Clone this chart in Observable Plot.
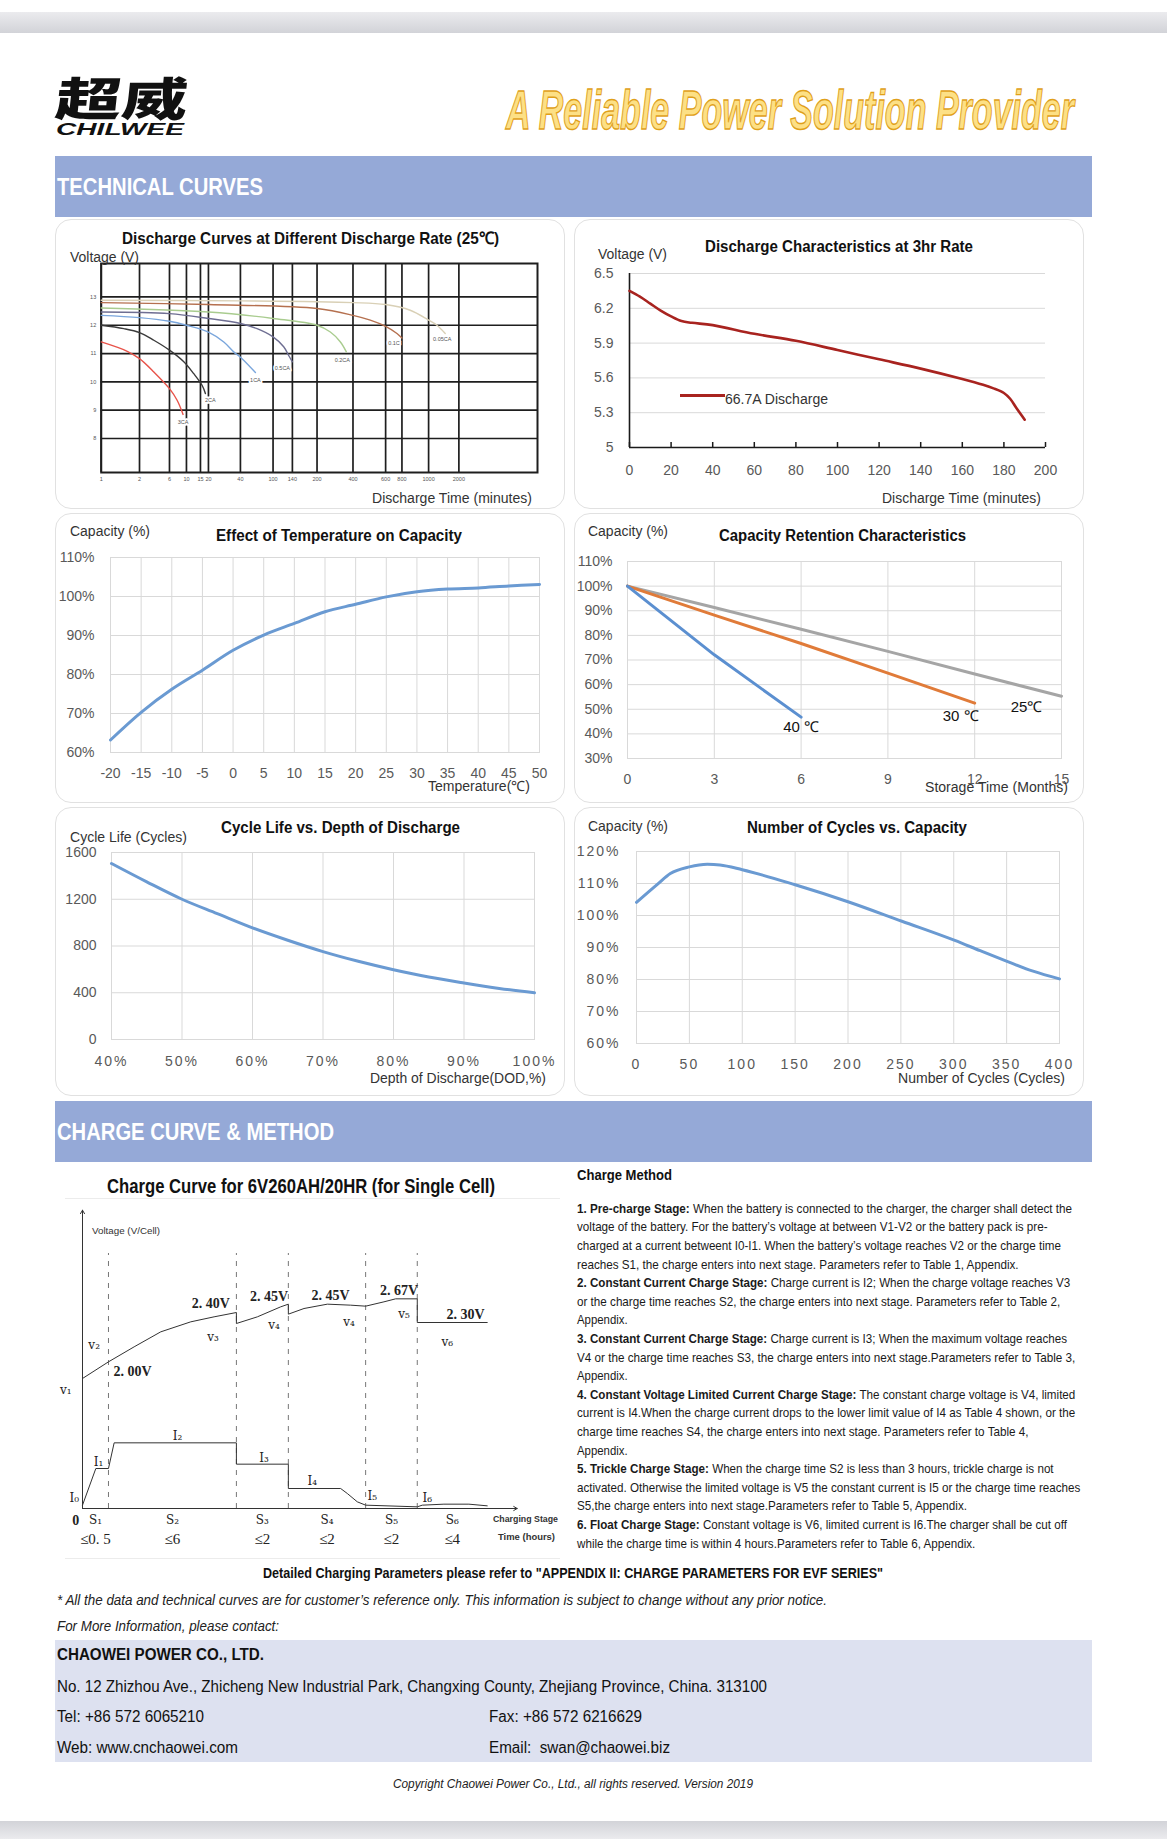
<!DOCTYPE html>
<html><head><meta charset="utf-8">
<script src="https://cdn.jsdelivr.net/npm/d3@7"></script>
<script src="https://cdn.jsdelivr.net/npm/@observablehq/plot@0.6"></script>
<style>
html,body{margin:0;padding:0;background:#fff;}
#page{position:relative;width:1167px;height:1839px;overflow:hidden;background:#fff;}
.abs{position:absolute;}
.t{position:absolute;white-space:nowrap;line-height:1;transform-origin:0 50%;}
.panel{position:absolute;border:1px solid #e1e1e1;border-radius:16px;background:#fff;box-sizing:border-box;}
</style></head><body><div id="page"></div>
<script>
// ---------------- DATA ----------------
// Chart 1: discharge curves at different rates (time in minutes, voltage V)
const dcTicksX = [1, 2, 6, 10, 15, 20, 40, 100, 140, 200, 400, 600, 800, 1000, 2000];
const dcTicksY = [8, 9, 10, 11, 12, 13];
const rate3CA = [[1,11.41],[1.68,11.08],[2,10.82],[3.91,10.35],[6,9.76],[7.8,9.35],[9.2,8.85]];
const rate2CA = [[1,12.0],[1.59,11.88],[2,11.74],[3.91,11.47],[6,11.12],[9.37,10.71],[12.6,10.29],[16,9.88],[18.1,9.59]];
const rate1CA = [[1,12.35],[2,12.27],[6,12.14],[10,12.0],[20,11.76],[29.6,11.41],[35.8,11.06],[43,10.82],[67.6,10.33]];
const rate05CA = [[1,12.47],[6,12.41],[20,12.24],[40,12.06],[70.6,11.88],[100,11.59],[122,11.24],[132,10.94],[140,10.71]];
const rate02CA = [[1,12.61],[20,12.47],[100,12.24],[200,12.0],[274,11.76],[330,11.41],[363,11.06]];
const rate01C = [[1,12.8],[20,12.73],[200,12.59],[400,12.35],[506,12.18],[600,11.96],[739,11.71],[800,11.55]];
const rate005CA = [[1,12.88],[40,12.86],[400,12.8],[600,12.73],[862,12.53],[1000,12.18],[1275,12.0],[1549,11.71]];
const rateNames = ["3CA", "2CA", "1CA", "0.5CA", "0.2CA", "0.1C", "0.05CA"];

// Chart 2: discharge at 3hr rate
const dis3hrTicksX = [0, 20, 40, 60, 80, 100, 120, 140, 160, 180, 200];
const dis3hrTicksY = [5, 5.3, 5.6, 5.9, 6.2, 6.5];
const dis3hrTime = [0, 5, 10, 15, 20, 25, 30, 40, 60, 80, 100, 120, 140, 160, 170, 175, 180, 183, 186, 190];
const dis3hrVolt = [6.35, 6.3, 6.24, 6.18, 6.13, 6.09, 6.075, 6.055, 5.98, 5.92, 5.84, 5.76, 5.68, 5.59, 5.54, 5.51, 5.47, 5.42, 5.34, 5.24];

// Chart 3: temperature vs capacity
const tempC = [-20, -15, -10, -5, 0, 5, 10, 15, 20, 25, 30, 35, 40, 45, 50];
const tempCap = [63.2, 70.3, 76.2, 81.1, 86.2, 90.1, 93.1, 96.1, 98, 99.9, 101.2, 101.9, 102.2, 102.7, 103.1];
const capTicks60 = [60, 70, 80, 90, 100, 110];

// Chart 4: capacity retention
const retMonths = [0, 3, 6, 9, 12, 15];
const ret25 = [100, 91.3, 82.5, 73.5, 64.3, 55.3];
const ret30 = [100, 88.2, 76.7, 64.7, 52.5];
const ret40 = [100, 72.1, 46.8];
const retTicksY = [30, 40, 50, 60, 70, 80, 90, 100, 110];
const retNames = ["25℃", "30 ℃", "40 ℃"];

// Chart 5: cycle life vs DOD
const dod = [40, 45, 50, 55, 60, 65, 70, 75, 80, 85, 90, 95, 100];
const cycleLife = [1506, 1349, 1200, 1077, 955, 849, 752, 669, 597, 534, 483, 437, 400];
const dodTicks = [40, 50, 60, 70, 80, 90, 100];
const lifeTicks = [0, 400, 800, 1200, 1600];

// Chart 6: number of cycles vs capacity
const cycN = [0, 20, 32, 50, 67, 79, 100, 150, 200, 251, 301, 325, 351, 375, 400];
const cycCap = [104.1, 109.8, 113.1, 115.2, 116, 115.8, 114.3, 109.6, 104.3, 98.2, 92.2, 89.0, 85.6, 82.6, 80.2];
const cycTicks = [0, 50, 100, 150, 200, 250, 300, 350, 400];
const cycCapTicks = [60, 70, 80, 90, 100, 110, 120];

// Charge curve (schematic units)
const stageEdges = [0, 7.8, 46.2, 61.8, 85, 100.5, 121.5];
const stageNames = ["S₁", "S₂", "S₃", "S₄", "S₅", "S₆"];
const stageHours = ["≤0. 5", "≤6", "≤2", "≤2", "≤2", "≤4"];
const chargeVolt = [[0,39],[7.8,44],[15.5,48.5],[23.5,53],[32.5,56],[39.5,57.5],[46.2,58.8],[46.2,55.5],[52.5,57.5],[59.5,60.5],[61.8,61.3],[61.8,58.3],[66.5,60],[73.5,61.3],[80.5,61],[85,60.7],[90.5,62],[94,62.9],[100.5,62.9],[100.5,55.8],[121.5,55.8]];
const chargeCurr = [[0,1],[4,12],[7.8,12],[9.5,19.7],[46.2,19.7],[46.2,13.3],[61.8,13.3],[61.8,6],[77.5,6],[79.5,4.5],[82.5,2],[85,1],[100.5,0.5],[102,1],[108.5,1.3],[116,1.3],[121.5,0.8]];
const voltNotes = [["2. 00V",15,41],["2. 40V",38.5,61.5],["2. 45V",56,63.7],["2. 45V",74.5,64],["2. 67V",95,65.5],["2. 30V",115,58.3]];
const symNotes = [["v₁",-5,35.5],["v₂",3.5,49],["v₃",39.2,51.5],["v₄",57.5,55],["v₄",80,56],["v₅",96.5,58.3],["v₆",109.5,50],
  ["I₀",-2.5,3],["I₁",4.8,14],["I₂",28.5,21.7],["I₃",54.5,15],["I₄",69,8.3],["I₅",87,3.7],["I₆",103.5,3]];

// ---------------- STYLE / LAYOUT ----------------
const SANS = '"Liberation Sans", Arial, Helvetica, sans-serif';
const NARROW = '"Liberation Sans Narrow", "Arial Narrow", "Liberation Sans", Arial, sans-serif';
const SERIF = '"Liberation Serif", "DejaVu Serif", "Times New Roman", serif';
const rateColors = ["#e8534a", "#3a3a3a", "#7aa6dc", "#6e6e92", "#a9cc8f", "#b5704f", "#d9d0b6"];
const rateLabelOffsets = [[0,8],[5,7],[0,8],[-10,6],[-4,8],[-8,5],[-3,6]];
const dcStopFrac = [0,.0878,.1565,.1954,.2275,.2458,.3191,.3939,.4382,.4947,.5771,.6519,.6893,.7504,.8198,1];
const dcStopVals = [...dcTicksX, 4000];
const GRID = "#d9d9d9";

const page = document.getElementById("page");
function el(tag, cls, st) { const e = document.createElement(tag); if (cls) e.className = cls; Object.assign(e.style, st || {}); page.appendChild(e); return e; }
function box(x, y, w, h, bg) { return el("div", "abs", {left: x+"px", top: y+"px", width: w+"px", height: h+"px", background: bg}); }
function panel(x, y, w, h) { return el("div", "panel", {left: x+"px", top: y+"px", width: w+"px", height: h+"px"}); }
function txt(str, x, y, o = {}) {
  const e = el("div", "t");
  e.innerHTML = str;
  const s = e.style;
  s.fontFamily = o.family || SANS;
  s.fontSize = (o.size || 14) + "px";
  s.fontWeight = o.weight || "normal";
  s.fontStyle = o.italic ? "italic" : "normal";
  s.color = o.color || "#222";
  if (o.ls) s.letterSpacing = o.ls + "px";
  if (o.outline) s.webkitTextStroke = o.outline;
  const w = e.getBoundingClientRect().width;
  const k = o.fit ? o.fit / w : 1;
  const a = o.anchor === "middle" ? 0.5 : o.anchor === "end" ? 1 : 0;
  s.left = (x - a * w * k) + "px";
  s.top = y + "px";
  s.transform = `translateY(-50%) ${o.skew ? `skewX(${o.skew}deg) ` : ""}scaleX(${k})`;
  return e;
}
function place(svg, x, y, w, h) {
  const d = el("div", "abs", {left: x+"px", top: y+"px", width: w+"px", height: h+"px"});
  d.appendChild(svg);
  return svg;
}
function spaceLabels(svg, which, ls) {
  svg.querySelectorAll(`g[aria-label="${which}-axis tick label"]`).forEach(g => g.style.letterSpacing = ls + "px");
}
const pct = d => d + "%";

// ---------------- PAGE FRAME ----------------
box(0, 12, 1167, 21, "linear-gradient(#ebebee, #d2d3d8)");
box(0, 1821, 1167, 18, "linear-gradient(#d2d3d8, #ebebee)");

// header
txt("超威", 56, 96, {family: '"Noto Sans CJK SC", sans-serif', weight: 900, size: 46, fit: 132, color: "#111", skew: -6});
txt("CHILWEE", 56, 130, {family: SANS, weight: "bold", italic: true, size: 16, fit: 128, color: "#111"});
txt("A Reliable Power Solution Provider", 506, 110, {family: NARROW, weight: "bold", italic: true, size: 56, fit: 568, color: "#fde085", outline: "1.4px #e0a01a"});

// banners
box(55, 156, 1037, 61, "#95a9d7");
txt("TECHNICAL CURVES", 57, 187, {family: NARROW, weight: "bold", size: 23, fit: 206, color: "#fff"});
box(55, 1101, 1037, 61, "#95a9d7");
txt("CHARGE CURVE &amp; METHOD", 57, 1132, {family: NARROW, weight: "bold", size: 23, fit: 277, color: "#fff"});

// panels
panel(55, 219, 510, 290); panel(574, 219, 510, 290);
panel(55, 513, 510, 290); panel(574, 513, 510, 290);
panel(55, 807, 510, 289); panel(574, 807, 510, 289);

// ---------------- CHART 1 ----------------
{
  const W = 510, H = 290, ml = 45.7, mr = 28, mt = 44, mb = 37;
  const series = [rate3CA, rate2CA, rate1CA, rate05CA, rate02CA, rate01C, rate005CA];
  const marks = [
    Plot.gridX(dcTicksX, {stroke: "#1e1e1e", strokeOpacity: 1, strokeWidth: 1.7}),
    Plot.gridY(dcTicksY, {stroke: "#1e1e1e", strokeOpacity: 1, strokeWidth: 1.7}),
    Plot.frame({stroke: "#1e1e1e", strokeWidth: 2}),
    Plot.axisX(dcTicksX, {tickSize: 0, tickPadding: 5, label: null, tickFormat: String, fontSize: 5.5}),
    Plot.axisY(dcTicksY, {tickSize: 0, tickPadding: 5, label: null, tickFormat: String, fontSize: 5.5})
  ];
  series.forEach((s, i) => {
    marks.push(Plot.line(s, {x: d => d[0], y: d => d[1], stroke: rateColors[i], strokeWidth: 1.4, curve: "catmull-rom"}));
  });
  series.forEach((s, i) => {
    marks.push(Plot.text([s[s.length - 1]], {x: d => d[0], y: d => d[1], text: () => rateNames[i], dx: rateLabelOffsets[i][0], dy: rateLabelOffsets[i][1],
      fill: "#555", stroke: "white", strokeWidth: 3.5, fontSize: 5.5, fontFamily: SANS}));
  });
  const svg = Plot.plot({
    width: W, height: H, marginLeft: ml, marginRight: mr, marginTop: mt, marginBottom: mb,
    style: {background: "transparent", fontFamily: SANS, fontSize: "5.5px", color: "#555", overflow: "visible"},
    x: {type: "linear", domain: dcStopVals, range: dcStopFrac.map(f => ml + f * (W - ml - mr))},
    y: {domain: [6.8, 14.18]},
    marks
  });
  place(svg, 55, 219, W, H);
}
txt("Discharge Curves at Different Discharge Rate (25℃)", 310, 238, {weight: "bold", size: 17, fit: 377, anchor: "middle", color: "#111"});
txt("Voltage (V)", 70, 257, {size: 14, fit: 69, color: "#333"});
txt("Discharge Time (minutes)", 532, 498, {size: 14, fit: 160, anchor: "end", color: "#333"});

// ---------------- CHART 2 ----------------
{
  const W = 510, H = 290;
  const svg = Plot.plot({
    width: W, height: H, marginLeft: 55, marginRight: 39, marginTop: 54, marginBottom: 62,
    style: {background: "transparent", fontFamily: SANS, fontSize: "14px", color: "#595959", overflow: "visible"},
    x: {domain: [0, 200]}, y: {domain: [5, 6.5]},
    marks: [
      Plot.gridY(dis3hrTicksY.slice(1), {stroke: GRID, strokeOpacity: 1}),
      Plot.ruleX([0], {stroke: "#1a1a1a", strokeWidth: 1.6}),
      Plot.ruleY([5], {stroke: "#1a1a1a", strokeWidth: 1.6}),
      Plot.axisX(dis3hrTicksX, {tickSize: 5, dy: -5, tickFormat: () => "", stroke: "#1a1a1a", strokeWidth: 1.5, label: null}),
      Plot.axisX(dis3hrTicksX, {tickSize: 0, tickPadding: 18, label: null, tickFormat: String}),
      Plot.axisY(dis3hrTicksY, {tickSize: 0, tickPadding: 16, label: null, tickFormat: String}),
      Plot.line(dis3hrTime.map((t, i) => [t, dis3hrVolt[i]]), {x: d => d[0], y: d => d[1], stroke: "#a8231f", strokeWidth: 2.6, curve: "catmull-rom"})
    ]
  });
  place(svg, 574, 219, W, H);
}
txt("Discharge Characteristics at 3hr Rate", 839, 247, {weight: "bold", size: 16, fit: 268, anchor: "middle", color: "#111"});
txt("Voltage (V)", 598, 254, {size: 14, fit: 69, color: "#333"});
txt("Discharge Time (minutes)", 1041, 498, {size: 14, fit: 159, anchor: "end", color: "#333"});
box(680, 394, 45, 3, "#a8231f");
txt("66.7A Discharge", 725, 399, {size: 14, fit: 103, color: "#333"});

// ---------------- CHART 3 ----------------
{
  const W = 510, H = 290;
  const svg = Plot.plot({
    width: W, height: H, marginLeft: 55, marginRight: 26, marginTop: 44, marginBottom: 51,
    style: {background: "transparent", fontFamily: SANS, fontSize: "14px", color: "#595959", overflow: "visible"},
    x: {domain: [-20, 50]}, y: {domain: [60, 110]},
    marks: [
      Plot.gridX(tempC, {stroke: GRID, strokeOpacity: 1}),
      Plot.gridY(capTicks60, {stroke: GRID, strokeOpacity: 1}),
      Plot.frame({stroke: GRID}),
      Plot.axisX(tempC, {tickSize: 0, tickPadding: 16, label: null, tickFormat: String}),
      Plot.axisY(capTicks60, {tickSize: 0, tickPadding: 16, label: null, tickFormat: pct}),
      Plot.line(tempC.map((t, i) => [t, tempCap[i]]), {x: d => d[0], y: d => d[1], stroke: "#6a9ad2", strokeWidth: 3, curve: "catmull-rom"})
    ]
  });
  place(svg, 55, 513, W, H);
}
txt("Effect of Temperature on Capacity", 339, 536, {weight: "bold", size: 16, fit: 246, anchor: "middle", color: "#111"});
txt("Capacity (%)", 70, 531, {size: 14, fit: 80, color: "#333"});
txt("Temperature(℃)", 479, 786, {size: 14, fit: 102, anchor: "middle", color: "#333"});

// ---------------- CHART 4 ----------------
{
  const W = 510, H = 290;
  const rows = [ret25, ret30, ret40];
  const colors = ["#a5a5a5", "#e07b39", "#5b8fd0"];
  const offs = [[-35, 11], [-14, 13], [0, 10]];
  const marks = [
    Plot.gridX(retMonths, {stroke: GRID, strokeOpacity: 1}),
    Plot.gridY(retTicksY, {stroke: GRID, strokeOpacity: 1}),
    Plot.frame({stroke: GRID}),
    Plot.axisX(retMonths, {tickSize: 0, tickPadding: 16, label: null, tickFormat: String}),
    Plot.axisY(retTicksY, {tickSize: 0, tickPadding: 15, label: null, tickFormat: pct})
  ];
  rows.forEach((r, i) => {
    marks.push(Plot.line(r.map((v, j) => [retMonths[j], v]), {x: d => d[0], y: d => d[1], stroke: colors[i], strokeWidth: 3}));
  });
  rows.forEach((r, i) => {
    marks.push(Plot.text([[retMonths[r.length - 1], r[r.length - 1]]], {x: d => d[0], y: d => d[1], text: () => retNames[i],
      dx: offs[i][0], dy: offs[i][1], fill: "#111", fontSize: 15, fontFamily: SANS}));
  });
  const svg = Plot.plot({
    width: W, height: H, marginLeft: 53, marginRight: 23, marginTop: 48, marginBottom: 45,
    style: {background: "transparent", fontFamily: SANS, fontSize: "14px", color: "#595959", overflow: "visible"},
    x: {domain: [0, 15]}, y: {domain: [30, 110]},
    marks
  });
  place(svg, 574, 513, W, H);
}
txt("Capacity Retention Characteristics", 842, 536, {weight: "bold", size: 16, fit: 247, anchor: "middle", color: "#111"});
txt("Capacity (%)", 588, 531, {size: 14, fit: 80, color: "#333"});
txt("Storage Time (Months)", 1068, 787, {size: 14, fit: 143, anchor: "end", color: "#333"});

// ---------------- CHART 5 ----------------
{
  const W = 510, H = 289;
  const svg = Plot.plot({
    width: W, height: H, marginLeft: 56, marginRight: 31, marginTop: 45, marginBottom: 57,
    style: {background: "transparent", fontFamily: SANS, fontSize: "14px", color: "#595959", overflow: "visible"},
    x: {domain: [40, 100]}, y: {domain: [0, 1600]},
    marks: [
      Plot.gridX(dodTicks, {stroke: GRID, strokeOpacity: 1}),
      Plot.gridY(lifeTicks, {stroke: GRID, strokeOpacity: 1}),
      Plot.frame({stroke: GRID}),
      Plot.axisX(dodTicks, {tickSize: 0, tickPadding: 17, label: null, tickFormat: pct}),
      Plot.axisY(lifeTicks, {tickSize: 0, tickPadding: 15, label: null, tickFormat: String}),
      Plot.line(dod.map((t, i) => [t, cycleLife[i]]), {x: d => d[0], y: d => d[1], stroke: "#6a9ad2", strokeWidth: 3, curve: "monotone-x"})
    ]
  });
  spaceLabels(svg, "x", 2);
  place(svg, 55, 807, W, H);
}
txt("Cycle Life vs. Depth of Discharge", 340, 828, {weight: "bold", size: 16, fit: 239, anchor: "middle", color: "#111"});
txt("Cycle Life (Cycles)", 70, 837, {size: 14, fit: 117, color: "#333"});
txt("Depth of Discharge(DOD,%)", 546, 1078, {size: 14, fit: 176, anchor: "end", color: "#333"});

// ---------------- CHART 6 ----------------
{
  const W = 510, H = 289;
  const svg = Plot.plot({
    width: W, height: H, marginLeft: 62, marginRight: 25, marginTop: 44, marginBottom: 53,
    style: {background: "transparent", fontFamily: SANS, fontSize: "14px", color: "#595959", overflow: "visible"},
    x: {domain: [0, 400]}, y: {domain: [60, 120]},
    marks: [
      Plot.gridX(cycTicks, {stroke: GRID, strokeOpacity: 1}),
      Plot.gridY(cycCapTicks, {stroke: GRID, strokeOpacity: 1}),
      Plot.frame({stroke: GRID}),
      Plot.axisX(cycTicks, {tickSize: 0, tickPadding: 16, label: null, tickFormat: String}),
      Plot.axisY(cycCapTicks, {tickSize: 0, tickPadding: 16, label: null, tickFormat: pct}),
      Plot.line(cycN.map((t, i) => [t, cycCap[i]]), {x: d => d[0], y: d => d[1], stroke: "#6a9ad2", strokeWidth: 3, curve: "monotone-x"})
    ]
  });
  spaceLabels(svg, "x", 2);
  spaceLabels(svg, "y", 2);
  place(svg, 574, 807, W, H);
}
txt("Number of Cycles vs. Capacity", 857, 828, {weight: "bold", size: 16, fit: 220, anchor: "middle", color: "#111"});
txt("Capacity (%)", 588, 826, {size: 14, fit: 80, color: "#333"});
txt("Number of Cycles (Cycles)", 1065, 1078, {size: 14, fit: 167, anchor: "end", color: "#333"});

// ---------------- CHARGE CURVE ----------------
box(65, 1198, 495, 1, "#ececec");
box(65, 1558, 495, 1, "#ececec");
{
  const W = 510, H = 390;
  const axisEnds = [{x1: 0, y1: 0, x2: 0, y2: 89.5}, {x1: 0, y1: 0, x2: 130.5, y2: 0}];
  const mids = stageEdges.slice(0, -1).map((e, i) => (e + stageEdges[i + 1]) / 2);
  const svg = Plot.plot({
    width: W, height: H, marginLeft: 27, marginRight: 0, marginTop: 0, marginBottom: 49,
    style: {background: "transparent", fontFamily: SERIF, fontSize: "13px", color: "#222", overflow: "visible"},
    x: {domain: [0, 145], axis: null}, y: {domain: [0, 102.3], axis: null},
    marks: [
      Plot.ruleX(stageEdges.slice(1, -1), {y1: 0, y2: 76.5, stroke: "#777", strokeDasharray: "5,6", strokeWidth: 1}),
      Plot.arrow(axisEnds, {x1: "x1", y1: "y1", x2: "x2", y2: "y2", stroke: "#333", strokeWidth: 1, headLength: 6}),
      Plot.line(chargeVolt, {x: d => d[0], y: d => d[1], stroke: "#333", strokeWidth: 1, curve: "linear"}),
      Plot.line(chargeCurr, {x: d => d[0], y: d => d[1], stroke: "#333", strokeWidth: 1, curve: "linear"}),
      Plot.text(voltNotes, {x: d => d[1], y: d => d[2], text: d => d[0], fontFamily: SERIF, fontSize: 14, fontWeight: "bold", fill: "#222"}),
      Plot.text(symNotes, {x: d => d[1], y: d => d[2], text: d => d[0], fontFamily: '"DejaVu Serif", serif', fontSize: 12, fill: "#222"}),
      Plot.text(["0"], {x: -2, y: -3.5, text: d => d, fontFamily: SERIF, fontSize: 14, fontWeight: "bold", fill: "#222"}),
      Plot.text(stageNames, {x: (d, i) => mids[i], y: -3.5, text: d => d, fontFamily: '"DejaVu Serif", serif', fontSize: 12, fill: "#222"}),
      Plot.text(stageHours, {x: (d, i) => mids[i], y: -9.3, text: d => d, fontFamily: SERIF, fontSize: 15, fill: "#222"})
    ]
  });
  place(svg, 55, 1167, W, H);
}
txt("Charge Curve for 6V260AH/20HR (for Single Cell)", 301, 1186, {family: NARROW, weight: "bold", size: 20, fit: 388, anchor: "middle", color: "#111"});
txt("Voltage (V/Cell)", 92, 1231, {size: 9, fit: 68, color: "#333"});
txt("Charging Stage", 493, 1519, {size: 9, weight: "bold", fit: 65, color: "#333"});
txt("Time (hours)", 498, 1537, {size: 9, weight: "bold", fit: 57, color: "#333"});

// ---------------- CHARGE METHOD ----------------
const methodLines = [
  "<b>1. Pre-charge Stage:</b> When the battery is connected to the charger, the charger shall detect the",
  "voltage of the battery. For the battery’s voltage at between V1-V2 or the battery pack is pre-",
  "charged at a current betweent I0-I1. When the battery’s voltage reaches V2 or the charge time",
  "reaches S1, the charge enters into next stage. Parameters refer to Table 1, Appendix.",
  "<b>2. Constant Current Charge Stage:</b> Charge current is I2; When the charge voltage reaches V3",
  "or the charge time reaches S2, the charge enters into next stage. Parameters refer to Table 2,",
  "Appendix.",
  "<b>3. Constant Current Charge Stage:</b> Charge current is I3; When the maximum voltage reaches",
  "V4 or the charge time reaches S3, the charge enters into next stage.Parameters refer to Table 3,",
  "Appendix.",
  "<b>4. Constant Voltage Limited Current Charge Stage:</b> The constant charge voltage is V4, limited",
  "current is I4.When the charge current drops to the lower limit value of I4 as Table 4 shown, or the",
  "charge time reaches S4, the charge enters into next stage. Parameters refer to Table 4,",
  "Appendix.",
  "<b>5. Trickle Charge Stage:</b> When the charge time S2 is less than 3 hours, trickle charge is not",
  "activated. Otherwise the limited voltage is V5 the constant current is I5 or the charge time reaches",
  "S5,the charge enters into next stage.Parameters refer to Table 5, Appendix.",
  "<b>6. Float Charge Stage:</b> Constant voltage is V6, limited current is I6.The charger shall be cut off",
  "while the charge time is within 4 hours.Parameters refer to Table 6, Appendix."
];
const methodLineEnds = [1071.7, 1047.3, 1060.7, 1018.3, 1070, 1060, 627.3, 1066.7, 1075, 627.3, 1075, 1075, 1028.3, 627.3, 1053.3, 1080, 966.7, 1066.7, 975];
txt("Charge Method", 576.7, 1175, {family: NARROW, weight: "bold", size: 14, fit: 95, color: "#111"});
methodLines.forEach((l, i) => {
  txt(l, 576.7, 1207.7 + i * 18.6, {family: NARROW, size: 13, fit: methodLineEnds[i] - 576.7, color: "#1a1a1a"});
});

// ---------------- FOOTER ----------------
txt('Detailed Charging Parameters please refer to "APPENDIX II: CHARGE PARAMETERS FOR EVF SERIES"', 573, 1573, {family: NARROW, weight: "bold", size: 14, fit: 620, anchor: "middle", color: "#111"});
txt("* All the data and technical curves are for customer’s reference only. This information is subject to change without any prior notice.", 57, 1600, {family: NARROW, italic: true, size: 14, fit: 770, color: "#222"});
txt("For More Information, please contact:", 57, 1626, {family: NARROW, italic: true, size: 14, fit: 222, color: "#222"});
box(55, 1640, 1037, 122, "#dde1f0");
txt("CHAOWEI POWER CO., LTD.", 57, 1655, {family: NARROW, weight: "bold", size: 16, fit: 207, color: "#111"});
txt("No. 12 Zhizhou Ave., Zhicheng New Industrial Park, Changxing County, Zhejiang Province, China. 313100", 57, 1687, {family: NARROW, size: 16, fit: 710, color: "#111"});
txt("Tel: +86 572 6065210", 57, 1717, {family: NARROW, size: 16, fit: 147, color: "#111"});
txt("Fax: +86 572 6216629", 489, 1717, {family: NARROW, size: 16, fit: 153, color: "#111"});
txt("Web: www.cnchaowei.com", 57, 1748, {family: NARROW, size: 16, fit: 181, color: "#111"});
txt("Email:&nbsp; swan@chaowei.biz", 489, 1748, {family: NARROW, size: 16, fit: 181, color: "#111"});
txt("Copyright Chaowei Power Co., Ltd., all rights reserved. Version 2019", 573, 1784, {family: NARROW, italic: true, size: 12, fit: 360, anchor: "middle", color: "#222"});
</script></body></html>
